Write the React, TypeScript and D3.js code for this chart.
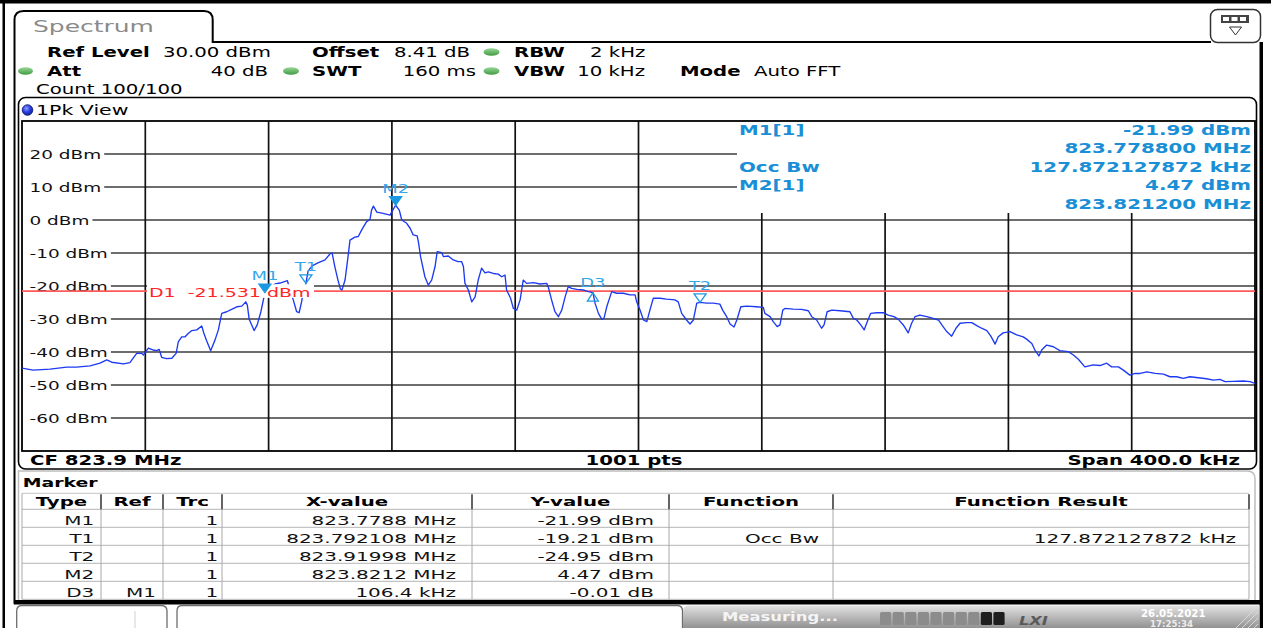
import React from 'react';
import * as d3 from 'd3';

const FONT = "'DejaVu Sans', Verdana, sans-serif";

// ---- instrument settings ----
const centerMHz = 823.9;
const spanKHz = 400;
const refLevel = 30;
const displayLine = -21.531;
const yTicks = [20, 10, 0, -10, -20, -30, -40, -50, -60];

// ---- trace: [offset from CF in kHz, level in dBm] ----
const trace: [number, number][] = [
  [-200.0,-44.9],[-196.4,-45.5],[-190.9,-45.2],[-185.5,-44.6],[-182.3,-44.6],[-177.9,-44.2],[-174.7,-43.4],[-172.5,-42.4],
  [-170.9,-43.1],[-167.1,-43.6],[-165.0,-43.2],[-162.8,-40.4],[-161.2,-40.4],[-160.6,-40.9],[-159.0,-38.8],[-157.4,-39.4],
  [-156.3,-39.6],[-155.5,-39.2],[-154.7,-41.6],[-153.1,-42.0],[-151.4,-41.9],[-150.0,-40.4],[-149.3,-36.9],[-148.2,-35.4],
  [-147.1,-35.4],[-146.0,-34.3],[-144.9,-33.5],[-143.3,-33.3],[-141.7,-32.1],[-141.0,-34.3],[-140.1,-36.6],[-138.8,-39.6],
  [-137.4,-36.4],[-136.3,-33.3],[-135.2,-28.3],[-133.6,-27.8],[-132.0,-27.1],[-130.3,-26.3],[-128.7,-26.1],[-127.4,-24.8],
  [-126.9,-25.8],[-126.3,-30.1],[-124.7,-33.5],[-123.7,-31.8],[-122.5,-27.8],[-121.2,-21.99],[-120.6,-21.7],[-119.5,-20.3],
  [-117.9,-19.4],[-116.3,-19.1],[-113.9,-18.4],[-113.1,-21.2],[-112.0,-24.2],[-110.9,-27.8],[-110.1,-28.1],[-109.3,-24.8],
  [-108.7,-21.5],[-107.9,-19.21],[-107.2,-15.5],[-105.9,-13.9],[-104.0,-13.0],[-101.7,-12.1],[-100.1,-10.3],[-99.4,-10.0],
  [-98.5,-14.2],[-97.5,-18.2],[-96.7,-20.9],[-96.2,-21.2],[-95.2,-18.2],[-94.1,-10.1],[-93.6,-6.1],[-92.0,-5.2],
  [-90.9,-5.0],[-89.8,-3.0],[-88.2,-0.5],[-87.1,0.2],[-86.6,3.0],[-86.0,4.2],[-84.9,2.4],[-82.8,2.0],
  [-80.6,1.5],[-79.7,3.0],[-78.8,4.47],[-77.6,3.0],[-76.8,0.0],[-75.2,-1.0],[-74.1,-2.5],[-73.1,-4.5],
  [-71.8,-4.8],[-71.4,-6.6],[-70.7,-11.1],[-69.3,-17.2],[-68.2,-19.7],[-67.1,-18.2],[-66.0,-14.1],[-65.3,-9.6],
  [-63.8,-9.9],[-63.3,-11.1],[-61.7,-10.9],[-60.1,-12.1],[-58.5,-12.6],[-57.4,-12.6],[-56.8,-14.1],[-56.3,-19.2],
  [-55.2,-21.2],[-54.1,-24.8],[-53.0,-23.3],[-52.0,-18.2],[-50.9,-14.6],[-49.8,-16.0],[-48.7,-15.7],[-47.1,-16.2],
  [-45.5,-16.4],[-44.4,-17.2],[-43.3,-16.7],[-42.8,-21.2],[-41.5,-23.7],[-40.6,-26.8],[-39.5,-27.3],[-38.4,-24.2],
  [-37.4,-18.2],[-36.3,-19.2],[-34.1,-19.0],[-32.0,-19.4],[-29.8,-19.2],[-29.3,-20.2],[-28.2,-24.2],[-27.1,-27.8],
  [-26.0,-29.3],[-24.9,-27.3],[-23.8,-23.3],[-22.8,-20.2],[-21.7,-20.7],[-20.0,-21.0],[-17.9,-21.2],[-16.3,-21.7],
  [-14.8,-22.0],[-14.1,-25.2],[-13.0,-28.3],[-11.9,-30.1],[-11.2,-29.8],[-10.3,-26.3],[-8.7,-21.7],[-7.1,-22.2],
  [-4.9,-22.2],[-2.8,-22.7],[-1.1,-22.7],[-0.6,-24.8],[0.5,-27.3],[1.6,-30.3],[2.7,-30.8],[3.7,-27.3],
  [4.8,-23.7],[7.0,-23.7],[9.1,-24.0],[11.8,-24.2],[12.9,-24.8],[14.0,-28.3],[15.6,-30.3],[16.7,-31.5],
  [17.8,-30.3],[18.9,-25.2],[20.0,-24.95],[22.1,-25.2],[24.3,-25.2],[26.4,-25.5],[27.3,-27.3],[28.6,-29.3],
  [29.7,-31.5],[31.0,-32.4],[31.9,-30.3],[33.2,-26.3],[35.1,-26.1],[38.3,-26.3],[40.5,-26.5],[41.0,-28.3],
  [42.7,-29.3],[43.7,-30.8],[45.0,-32.3],[45.9,-31.8],[46.8,-27.3],[47.5,-26.8],[50.2,-27.0],[52.9,-27.1],
  [55.1,-27.5],[56.2,-29.3],[57.8,-30.3],[59.4,-32.8],[60.2,-31.8],[61.2,-27.8],[62.7,-27.3],[65.4,-27.5],
  [68.6,-27.8],[69.7,-29.8],[70.8,-30.3],[72.1,-31.8],[73.2,-33.3],[74.2,-30.8],[75.3,-28.3],[77.3,-28.1],
  [79.4,-28.1],[81.0,-28.8],[82.9,-29.3],[84.3,-30.1],[85.9,-31.8],[87.5,-34.2],[88.6,-31.3],[89.7,-29.3],
  [91.3,-28.8],[93.5,-29.3],[95.6,-29.8],[97.3,-30.3],[98.4,-31.8],[100.0,-33.8],[101.6,-35.2],[103.0,-32.8],
  [104.3,-31.3],[106.5,-31.1],[108.1,-31.1],[109.9,-32.1],[111.3,-32.8],[113.0,-33.5],[114.3,-35.2],[115.7,-37.6],
  [116.7,-35.4],[118.3,-34.2],[120.5,-33.8],[122.7,-34.8],[124.8,-35.4],[125.9,-36.1],[127.6,-37.4],[128.6,-39.4],
  [129.9,-41.2],[130.8,-39.4],[132.4,-37.9],[134.6,-38.4],[136.7,-39.6],[139.4,-39.9],[141.1,-40.9],[142.7,-42.2],
  [144.8,-44.5],[147.5,-43.9],[149.7,-44.1],[151.9,-43.4],[153.5,-44.5],[155.7,-44.5],[157.3,-45.5],[159.4,-47.0],
  [161.1,-46.5],[162.7,-46.5],[164.9,-46.0],[167.6,-46.5],[170.3,-46.7],[172.4,-47.5],[174.6,-47.5],[176.7,-48.0],
  [178.9,-47.5],[181.6,-47.8],[184.3,-48.1],[186.5,-48.5],[188.6,-48.3],[190.3,-49.0],[193.0,-48.9],[196.2,-48.8],
  [198.4,-49.0],[200.0,-49.5],
];

// ---- markers ----
const markerNames = ['M1', 'T1', 'T2', 'M2', 'D3'];
const markerMHz = [823.7788, 823.792108, 823.91998, 823.8212, 823.8852];
const markerDbm = [-21.99, -19.21, -24.95, 4.47, -22.0];

// ---- marker info (upper right) ----
const infoLabels = ['M1[1]', '', 'Occ Bw', 'M2[1]', ''];
const infoValues = ['-21.99 dBm', '823.778800 MHz', '127.872127872 kHz', '4.47 dBm', '823.821200 MHz'];

// ---- marker table ----
const tableHeaders = ['Type', 'Ref', 'Trc', 'X-value', 'Y-value', 'Function', 'Function Result'];
const markerTypes = ['M1', 'T1', 'T2', 'M2', 'D3'];
const markerRefs = ['', '', '', '', 'M1'];
const markerTrcs = ['1', '1', '1', '1', '1'];
const markerXValues = ['823.7788 MHz', '823.792108 MHz', '823.91998 MHz', '823.8212 MHz', '106.4 kHz'];
const markerYValues = ['-21.99 dBm', '-19.21 dBm', '-24.95 dBm', '4.47 dBm', '-0.01 dB'];
const markerFunctions = ['', 'Occ Bw', '', '', ''];
const markerResults = ['', '127.872127872 kHz', '', '', ''];

const CW: Record<string, number> = {
  '0': .636, '1': .636, '2': .636, '3': .636, '4': .636, '5': .636, '6': .636, '7': .636, '8': .636, '9': .636,
  '-': .361, ' ': .318, 'd': .635, 'B': .686, 'm': .974,
};
const measure = (s: string, size: number, sx: number) =>
  s.split('').reduce((a, c) => a + (CW[c] ?? 0.6), 0) * size * sx;

function T({ x, y, size = 13.5, sx = 1.46, anchor = 'start', bold = false, fill = '#000', italic = false, children }: any) {
  return (
    <text
      transform={`translate(${x},${y}) scale(${sx},1)`}
      fontSize={size}
      fontFamily={FONT}
      fontWeight={bold ? 700 : 400}
      fontStyle={italic ? 'italic' : 'normal'}
      textAnchor={anchor}
      fill={fill}
    >
      {children}
    </text>
  );
}

export default function App() {
  const X0 = 22, X1 = 1255, Y0 = 121, Y1 = 451;
  const x = d3.scaleLinear().domain([-spanKHz / 2, spanKHz / 2]).range([X0, X1]);
  const y = d3.scaleLinear().domain([refLevel - 100, refLevel]).range([Y1, Y0]);
  const line = d3.line<[number, number]>().x(d => x(d[0])).y(d => y(d[1]));
  const vGrid = d3.range(1, 10).map(i => -spanKHz / 2 + (i * spanKHz) / 10);
  const infoL = 737, infoB = 213;
  const labelX = 29.5, labelSize = 13, labelSx = 1.42;
  const markerBlue = '#1c98e2';
  const infoBlue = '#1a8fd6';

  // table layout
  const colEdges = [22, 101, 163, 222, 472, 669, 833, 1249];
  const colInset = [6.7, 7, 3.7, 16, 15, 14, 13];
  const hY0 = 493.3, hY1 = 509.3, rowH = 18;
  const rows = markerTypes.map((t, i) => [t, markerRefs[i], markerTrcs[i], markerXValues[i], markerYValues[i], markerFunctions[i], markerResults[i]]);
  const tBottom = hY1 + rows.length * rowH;

  const dlY = y(displayLine);

  return (
    <svg width={1271} height={628} style={{ position: 'absolute', left: 0, top: 0, background: '#fff' }} fontFamily={FONT}>
      <defs>
        <linearGradient id="statusGrad" x1="0" y1="0" x2="0" y2="1">
          <stop offset="0" stopColor="#e2e2e2" />
          <stop offset="1" stopColor="#8e8e8e" />
        </linearGradient>
        <radialGradient id="blueDot" cx="0.4" cy="0.35" r="0.7">
          <stop offset="0" stopColor="#8fa0ff" />
          <stop offset="0.5" stopColor="#2a3fe6" />
          <stop offset="1" stopColor="#10208a" />
        </radialGradient>
        <linearGradient id="greenDot" x1="0" y1="0" x2="0" y2="1">
          <stop offset="0" stopColor="#9ad69a" />
          <stop offset="1" stopColor="#3f9b3f" />
        </linearGradient>
        <clipPath id="plotClip">
          <rect x={X0} y={Y0} width={X1 - X0} height={Y1 - Y0} />
        </clipPath>
      </defs>
      <rect x={0} y={0} width={1271} height={628} fill="#fff" />

      {/* outer frame */}
      <rect x={0} y={0} width={1271} height={3.5} fill="#000" />
      <rect x={2.5} y={0} width={2.5} height={628} fill="#000" />
      <rect x={1259.5} y={42} width={3.5} height={586} fill="#000" />

      {/* Spectrum tab */}
      <path d="M14.5,604 L14.5,20 Q14.5,11 23.5,11 L204,11 Q212.7,11 212.7,20 L212.7,42 L1211,42" fill="none" stroke="#000" strokeWidth={2} />
      <T x={33} y={32} size={16} sx={1.56} fill="#8a8a8a">Spectrum</T>
      {/* icon */}
      <rect x={1210.5} y={9.5} width={50} height={33} rx={7} fill="#fff" stroke="#333" strokeWidth={1.5} />
      <rect x={1221} y={15} width={28} height={8} fill="#444" />
      {[0, 1, 2].map(i => <rect key={i} x={1223 + i * 8.5} y={17} width={6} height={4} fill="#fff" />)}
      <path d="M1229.5,27 L1241.5,27 L1235.5,35 Z" fill="#fff" stroke="#333" strokeWidth={1} />

      {/* header settings */}
      <ellipse cx={25.5} cy={71} rx={7.5} ry={3.8} fill="url(#greenDot)" />
      <ellipse cx={291} cy={71} rx={8} ry={3.8} fill="url(#greenDot)" />
      <ellipse cx={491.5} cy={52} rx={8} ry={3.8} fill="url(#greenDot)" />
      <ellipse cx={491.5} cy={71} rx={8} ry={3.8} fill="url(#greenDot)" />
      <T x={47} y={57} bold>Ref Level</T>
      <T x={163} y={57}>30.00 dBm</T>
      <T x={312} y={57} bold>Offset</T>
      <T x={394} y={57}>8.41 dB</T>
      <T x={514} y={57} bold>RBW</T>
      <T x={590} y={57}>2 kHz</T>
      <T x={47} y={75.5} bold>Att</T>
      <T x={268} y={75.5} anchor="end">40 dB</T>
      <T x={312} y={75.5} bold>SWT</T>
      <T x={476} y={75.5} anchor="end">160 ms</T>
      <T x={514} y={75.5} bold>VBW</T>
      <T x={645} y={75.5} anchor="end">10 kHz</T>
      <T x={680} y={75.5} bold>Mode</T>
      <T x={754} y={75.5}>Auto FFT</T>
      <T x={36} y={93.5}>Count 100/100</T>

      {/* plot frame */}
      <rect x={18.5} y={97.5} width={1238} height={371.5} rx={7} fill="#fff" stroke="#000" strokeWidth={1.6} />
      <circle cx={27.5} cy={110} r={5.3} fill="url(#blueDot)" stroke="#0a1670" strokeWidth={0.8} />
      <T x={36} y={114.5} sx={1.52}>1Pk View</T>

      {/* grid: horizontal */}
      {yTicks.map(v => {
        const gy = y(v);
        const label = `${v} dBm`;
        const xs = labelX + measure(label, labelSize, labelSx) + 3;
        const xe = gy < infoB ? infoL : X1;
        return (
          <g key={v}>
            <line x1={xs} x2={xe} y1={gy} y2={gy} stroke="#3c3c3c" strokeWidth={1.7} />
            <T x={labelX} y={gy + 5} size={labelSize} sx={labelSx} fill="#111">{label}</T>
          </g>
        );
      })}
      {/* grid: vertical */}
      {vGrid.map(v => {
        const gx = x(v);
        return <line key={v} x1={gx} x2={gx} y1={gx > infoL ? infoB : Y0} y2={Y1} stroke="#111" strokeWidth={1.7} />;
      })}
      <rect x={X0} y={Y0} width={X1 - X0} height={Y1 - Y0} fill="none" stroke="#000" strokeWidth={1.8} />

      {/* display line */}
      <line x1={X0} x2={X1} y1={dlY} y2={dlY} stroke="#ff5a5a" strokeWidth={1.7} />

      {/* trace */}
      <path d={line(trace) || ''} fill="none" stroke="#1d3af2" strokeWidth={1.35} strokeLinejoin="round" clipPath="url(#plotClip)" />

      {/* D1 label */}
      <rect x={147} y={dlY - 6.8} width={167} height={13.6} fill="#fff" />
      <T x={149} y={dlY + 5.5} size={13} sx={1.46} fill="#ff2626">{'D1\u00A0\u00A0-21.531 dBm'}</T>

      {/* markers */}
      {markerNames.map((n, i) => {
        const mx = x((markerMHz[i] - centerMHz) * 1000);
        const my = y(markerDbm[i]);
        const kind = n[0];
        const d = kind === 'D'
          ? `M${mx},${my} L${mx - 5.5},${my + 8.5} L${mx + 5.5},${my + 8.5} Z`
          : `M${mx},${my} L${mx - 6},${my - 8.5} L${mx + 6},${my - 8.5} Z`;
        return (
          <g key={n}>
            <path d={d} fill={kind === 'M' ? markerBlue : 'none'} stroke={markerBlue} strokeWidth={1.3} />
            <T x={mx} y={kind === 'D' ? my - 6 : my - 12.5} size={13} sx={1.38} anchor="middle" fill="#34a6ea">{n}</T>
          </g>
        );
      })}

      {/* marker info block */}
      {infoLabels.map((l, i) => (
        <g key={i}>
          {l && <T x={739} y={135 + i * 18.4} bold sx={1.47} fill={infoBlue}>{l}</T>}
          <T x={1251} y={135 + i * 18.4} bold sx={1.47} anchor="end" fill={infoBlue}>{infoValues[i]}</T>
        </g>
      ))}

      {/* status row */}
      <T x={30} y={465} bold>{`CF ${centerMHz} MHz`}</T>
      <T x={634} y={465} bold anchor="middle">1001 pts</T>
      <T x={1240} y={465} bold anchor="end">{`Span ${spanKHz.toFixed(1)} kHz`}</T>

      {/* marker table panel */}
      <path d="M18.5,601 L18.5,471 L1247,471 Q1255,471 1255,479 L1255,601" fill="#fff" stroke="#bdbdbd" strokeWidth={1.5} />
      <T x={22.7} y={486.7} size={12.5} sx={1.51} bold>Marker</T>
      {/* table body lines */}
      <line x1={colEdges[0]} x2={colEdges[colEdges.length - 1]} y1={hY0} y2={hY0} stroke="#c4c4c4" strokeWidth={1} />
      {d3.range(rows.length + 1).map(r => (
        <line key={r} x1={colEdges[0]} x2={colEdges[colEdges.length - 1]} y1={hY1 + r * rowH} y2={hY1 + r * rowH} stroke="#b4b4b4" strokeWidth={1} />
      ))}
      {colEdges.map((cx, c) => (
        <line key={c} x1={cx} x2={cx} y1={c === 0 ? hY0 : hY1} y2={tBottom} stroke="#a8a8a8" strokeWidth={1} />
      ))}
      {colEdges.slice(1).map((cx, c) => (
        <line key={'h' + c} x1={cx} x2={cx} y1={hY0 + 1} y2={hY1} stroke="#303030" strokeWidth={1.5} />
      ))}
      {tableHeaders.map((h, c) => (
        <T key={h} x={(colEdges[c] + colEdges[c + 1]) / 2} y={506} size={12.5} sx={1.58} bold anchor="middle">{h}</T>
      ))}
      {rows.map((row, r) =>
        row.map((cell, c) =>
          cell ? (
            <T key={r + '-' + c} x={colEdges[c + 1] - colInset[c]} y={hY1 + (r + 1) * rowH - 2.7} size={12.5} sx={1.6} anchor="end" fill="#111">{cell}</T>
          ) : null
        )
      )}

      {/* bottom status bar */}
      <rect x={14} y={600} width={1249} height={4.5} fill="#000" />
      <path d="M16.7,629 L16.7,611 Q16.7,605.5 22,605.5 L161,605.5 Q167,605.5 167,611 L167,629" fill="#fff" stroke="#6d6d6d" strokeWidth={1.3} />
      <line x1={135} x2={135} y1={611} y2={628} stroke="#d0d0d0" strokeWidth={1} />
      <path d="M177,629 L177,611 Q177,605.5 182,605.5 L677,605.5 Q682.5,605.5 682.5,611 L682.5,629" fill="#fff" stroke="#6d6d6d" strokeWidth={1.3} />
      <path d="M683,629 L683,611 Q683,605.5 689,605.5 L1259.5,605.5 L1259.5,629 Z" fill="url(#statusGrad)" />
      <T x={722} y={621} size={12} sx={1.37} bold fill="#f4f4f4">Measuring...</T>
      {d3.range(10).map(i => (
        <rect key={i} x={880 + i * 12.6} y={612} width={11.2} height={13} rx={1.5} fill={i >= 8 ? '#1e1e1e' : '#8c8c8c'} />
      ))}
      <T x={1019} y={624.5} size={13} sx={1.25} bold italic fill="#5a5a5a">LXI</T>
      <T x={1141} y={616.5} size={10} sx={1.02} bold fill="#ffffff">26.05.2021</T>
      <T x={1150} y={626.5} size={8.5} sx={1.02} bold fill="#eeeeee">17:25:34</T>
      {d3.range(4).map(i => (
        <line key={i} x1={1236 + i * 6} y1={628} x2={1258} y2={606 + i * 6} stroke="#d8d8d8" strokeWidth={1} />
      ))}
    </svg>
  );
}
